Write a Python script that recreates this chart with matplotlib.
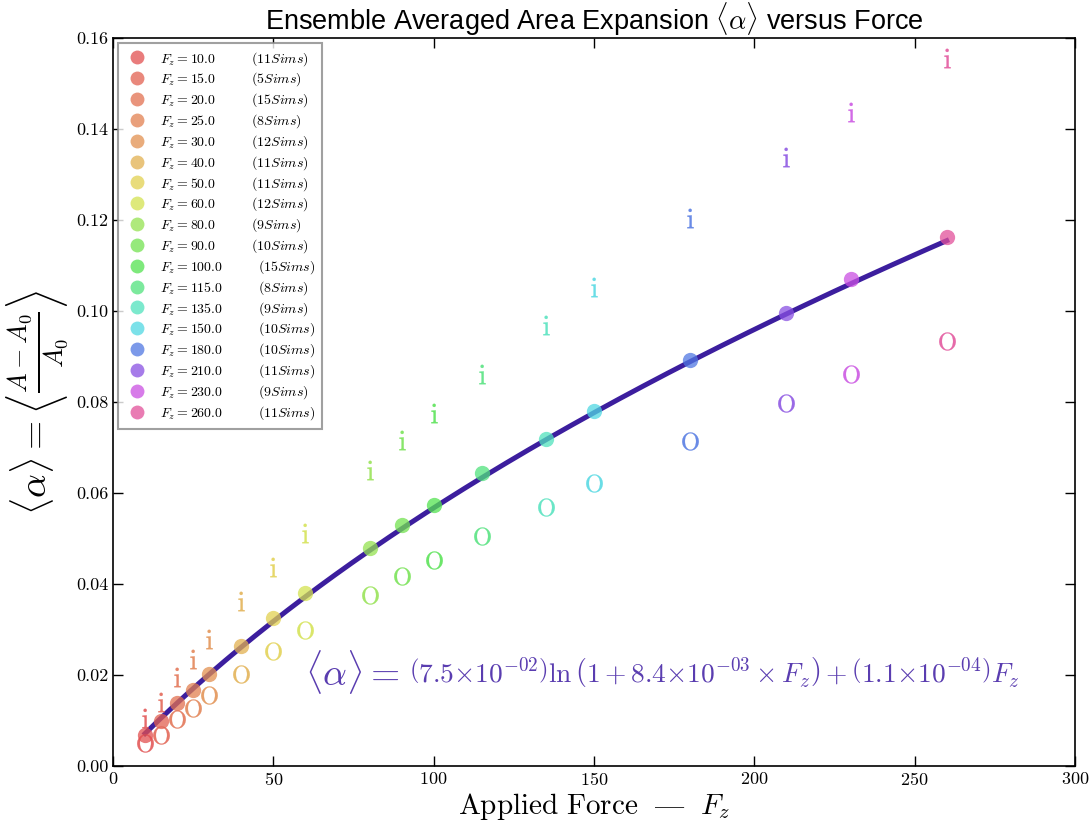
import colorsys
import numpy as np
import matplotlib
matplotlib.use("Agg")
import matplotlib.pyplot as plt

# applied force, number of sims, ensemble means, inner / outer leaflet values
forces = [10, 15, 20, 25, 30, 40, 50, 60, 80, 90, 100, 115, 135, 150, 180, 210, 230, 260]
n_sims = [11, 5, 15, 8, 12, 11, 11, 12, 9, 10, 15, 8, 9, 10, 10, 11, 9, 11]
alpha_mean = [0.0068, 0.0099, 0.0138, 0.0167, 0.0202, 0.0264, 0.0325, 0.0380, 0.0479,
              0.0530, 0.0574, 0.0644, 0.0719, 0.0780, 0.0892, 0.0996, 0.1070, 0.1163]
alpha_inner = [0.0105, 0.0141, 0.0196, 0.0235, 0.0279, 0.0363, 0.0437, 0.0512, 0.0651,
               0.0716, 0.0776, 0.0862, 0.0969, 0.1053, 0.1204, 0.1338, 0.1437, 0.1556]
alpha_outer = [0.0051, 0.0068, 0.0103, 0.0127, 0.0156, 0.0202, 0.0253, 0.0299, 0.0376,
               0.0418, 0.0453, 0.0505, 0.0569, 0.0622, 0.0714, 0.0798, 0.0862, 0.0934]

# fit parameters
fit_a = 7.5e-02
fit_b = 8.4e-03
fit_c = 1.1e-04

plt.rcParams['mathtext.fontset'] = 'cm'
plt.rcParams['font.family'] = ['cmr10', 'DejaVu Serif']
plt.rcParams['axes.formatter.use_mathtext'] = True


def force_color(f):
    hue = (f - 10) / 250.0 * 0.915
    return colorsys.hls_to_rgb(hue, 0.6, 0.72)


fig = plt.figure(figsize=(10.91, 8.21), dpi=100)
ax = fig.add_axes([0.1036, 0.067, 0.8817, 0.8867])

fx = np.linspace(10, 260, 300)
fy = fit_a * np.log(1 + fit_b * fx) + fit_c * fx
ax.plot(fx, fy, color='#3c1e9e', lw=3.6, zorder=2)

for i, f in enumerate(forces):
    c = force_color(f)
    lab = r'$F_z = %.1f\qquad\quad(%d Sims)$' % (f, n_sims[i])
    ax.plot(f, alpha_mean[i], 'o', ms=11, color=c, alpha=0.75, mec='none',
            label=lab, zorder=3)
    ax.plot(f, alpha_inner[i], marker=r'$\mathrm{i}$', ms=14, color=c, mew=0.2,
            alpha=0.85, ls='none', zorder=3)
    ax.plot(f, alpha_outer[i], marker=r'$\mathrm{O}$', ms=13, color=c, mew=0.2,
            alpha=0.85, ls='none', zorder=3)

ax.set_xlim(0, 300)
ax.set_ylim(0, 0.16)
ax.set_xticks(range(0, 301, 50))
ax.set_yticks(np.arange(0, 0.161, 0.02))
ax.yaxis.set_major_formatter(matplotlib.ticker.FormatStrFormatter('%.2f'))
ax.tick_params(direction='in', top=True, right=True, length=7, width=1,
               labelsize=13)
for sp in ax.spines.values():
    sp.set_linewidth(1.2)

leg = ax.legend(loc='upper left', fontsize=10, numpoints=1, markerscale=1.0,
                handletextpad=0.7, labelspacing=0.22, borderpad=0.5,
                handlelength=1.8, fancybox=False, borderaxespad=0.35)
leg.get_frame().set_edgecolor('#888888')
leg.get_frame().set_linewidth(1.5)
for h in leg.legend_handles:
    h.set_markersize(10)

ax.set_title(r'Ensemble Averaged Area Expansion $\langle\alpha\rangle$ versus Force',
             family=['Liberation Sans', 'DejaVu Sans'], fontsize=19.5, pad=6)
ax.set_xlabel('$\\mathrm{Applied\\ Force}\\ \\ \\mathrm{\u2014}\\ \\ F_z$',
              fontsize=21, labelpad=2)
ax.set_ylabel(r'$\langle\alpha\rangle = \left\langle\frac{A - A_0}{A_0}\right\rangle$',
              fontsize=27, labelpad=4)

t1 = ax.text(59.9, 0.0207, r'$\langle\alpha\rangle = $', fontsize=27,
             color='#5a3db0', va='center', ha='left')
ax.annotate(r'$\left(7.5{\times}10^{-02}\right)\ln\left(1+8.4{\times}10^{-03}\times F_z\right)'
            r'+\left(1.1{\times}10^{-04}\right)F_z$',
            xy=(1.0, 0.5), xycoords=t1, xytext=(6, 0), textcoords='offset points',
            va='center', ha='left', fontsize=19.7, color='#5a3db0')

fig.savefig('out.png', dpi=100)
